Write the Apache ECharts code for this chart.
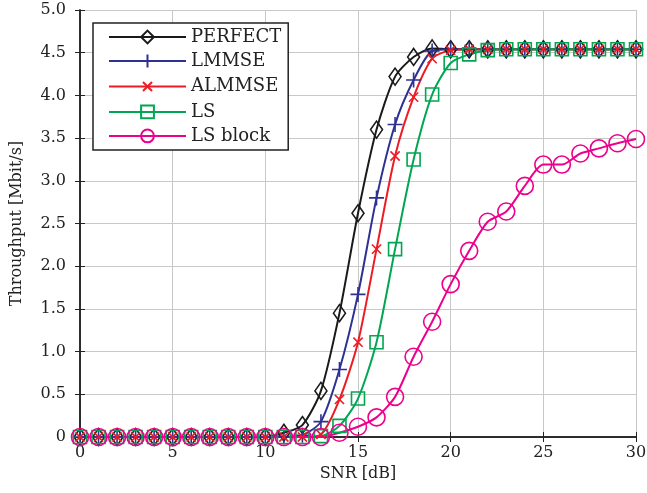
<!DOCTYPE html>
<html>
<head>
<meta charset="utf-8">
<script src="https://cdn.jsdelivr.net/npm/echarts@6/dist/echarts.min.js"></script>
<style>
  html, body { margin: 0; padding: 0; background: #fff; }
  #chart { width: 647px; height: 493px; }
</style>
</head>
<body>
<div id="chart"></div>
<script>
const snr = [0, 1, 2, 3, 4, 5, 6, 7, 8, 9, 10, 11, 12, 13, 14, 15, 16, 17, 18, 19, 20, 21, 22, 23, 24, 25, 26, 27, 28, 29, 30];

const perfect = [0, 0, 0, 0, 0, 0, 0, 0, 0, 0, 0, 0.05, 0.14, 0.54, 1.45, 2.62, 3.60, 4.22, 4.45, 4.55, 4.54, 4.54, 4.54, 4.54, 4.54, 4.54, 4.54, 4.54, 4.54, 4.54, 4.54];
const lmmse = [0, 0, 0, 0, 0, 0, 0, 0, 0, 0, 0, 0, 0.02, 0.18, 0.79, 1.67, 2.80, 3.66, 4.18, 4.52, 4.54, 4.54, 4.54, 4.54, 4.54, 4.54, 4.54, 4.54, 4.54, 4.54, 4.54];
const almmse = [0, 0, 0, 0, 0, 0, 0, 0, 0, 0, 0, 0, 0, 0.03, 0.44, 1.11, 2.20, 3.29, 3.98, 4.43, 4.53, 4.54, 4.54, 4.54, 4.54, 4.54, 4.54, 4.54, 4.54, 4.54, 4.54];
const ls = [0, 0, 0, 0, 0, 0, 0, 0, 0, 0, 0, 0, 0, 0.01, 0.13, 0.45, 1.11, 2.20, 3.25, 4.01, 4.38, 4.48, 4.53, 4.54, 4.54, 4.54, 4.54, 4.54, 4.54, 4.54, 4.54];
const lsBlock = [0, 0, 0, 0, 0, 0, 0, 0, 0, 0, 0, 0, 0, 0, 0.05, 0.12, 0.23, 0.47, 0.94, 1.35, 1.79, 2.18, 2.52, 2.64, 2.94, 3.19, 3.19, 3.32, 3.38, 3.44, 3.49];

const FONT = 'DejaVu Serif';

function pairs(ys) {
  return snr.map((x, i) => [x, ys[i]]);
}

function makeSeries(name, ys, color, symbol, size, rotate) {
  return {
    name: name,
    type: 'line',
    data: pairs(ys),
    smooth: 0.25,
    symbol: symbol,
    symbolSize: size,
    symbolRotate: rotate || 0,
    showAllSymbol: true,
    lineStyle: { color: color, width: 2 },
    itemStyle: { color: 'rgba(0,0,0,0)', borderColor: color, borderWidth: 1.6 },
    emphasis: { disabled: true },
    z: 2
  };
}

const plusPath = 'path://M5,0L5,10M0,5L10,5';

const chart = echarts.init(document.getElementById('chart'));

const axisLine = { show: true, lineStyle: { color: '#222', width: 1.5 } };
const tickIn = { show: true, inside: true, length: 5, lineStyle: { color: '#222', width: 1 } };

chart.setOption({
  animation: false,
  textStyle: { fontFamily: FONT },
  grid: { left: 80, right: 11, top: 10, bottom: 56, containLabel: false, outerBoundsMode: 'none' },
  legend: {
    left: 93,
    top: 23,
    orient: 'vertical',
    backgroundColor: '#fff',
    borderColor: '#222',
    borderWidth: 1.5,
    borderRadius: 0,
    padding: [5, 7, 5, 15],
    itemWidth: 77,
    itemHeight: 16,
    itemGap: 6,
    textStyle: { fontFamily: FONT, fontSize: 18, color: '#222', lineHeight: 16 },
    data: ['PERFECT', 'LMMSE', 'ALMMSE', 'LS', 'LS block']
  },
  xAxis: [{
    type: 'value',
    min: 0, max: 30, interval: 5,
    name: 'SNR [dB]',
    nameLocation: 'middle',
    nameGap: 29,
    nameTextStyle: { fontFamily: FONT, fontSize: 16, color: '#222' },
    axisLine: axisLine,
    axisTick: tickIn,
    axisLabel: { fontFamily: FONT, fontSize: 16, color: '#222', margin: 8 },
    splitLine: { show: true, lineStyle: { color: '#c8c8c8', width: 1 } }
  }, {
    type: 'value',
    position: 'top',
    min: 0, max: 30, interval: 5,
    axisLine: axisLine,
    axisTick: tickIn,
    axisLabel: { show: false },
    splitLine: { show: false }
  }],
  yAxis: [{
    type: 'value',
    min: 0, max: 5, interval: 0.5,
    name: 'Throughput [Mbit/s]',
    nameLocation: 'middle',
    nameGap: 55,
    nameTextStyle: { fontFamily: FONT, fontSize: 16, color: '#222' },
    axisLine: axisLine,
    axisTick: tickIn,
    axisLabel: {
      fontFamily: FONT, fontSize: 16, color: '#222', margin: 14,
      formatter: v => (v === 0 ? '0' : v.toFixed(1))
    },
    splitLine: { show: true, lineStyle: { color: '#c8c8c8', width: 1 } }
  }, {
    type: 'value',
    position: 'right',
    min: 0, max: 5, interval: 0.5,
    axisLine: axisLine,
    axisTick: tickIn,
    axisLabel: { show: false },
    splitLine: { show: false }
  }],
  series: [
    makeSeries('PERFECT', perfect, '#1a1a1a', 'diamond', [12, 17]),
    makeSeries('LMMSE', lmmse, '#2e3192', plusPath, 15),
    makeSeries('ALMMSE', almmse, '#ed1c24', plusPath, 13, 45),
    makeSeries('LS', ls, '#00a651', 'rect', 13),
    makeSeries('LS block', lsBlock, '#ec008c', 'circle', 17)
  ]
});
</script>
</body>
</html>
